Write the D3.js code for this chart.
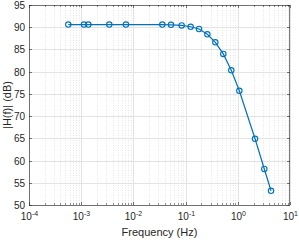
<!DOCTYPE html>
<html><head><meta charset="utf-8">
<script src="https://cdn.jsdelivr.net/npm/d3@7"></script>
<style>body{margin:0;background:#fff}svg{display:block}text{font-family:"Liberation Sans",Arial,sans-serif;fill:#262626}</style>
</head><body><svg id="c" width="299" height="240"></svg>
<script>
const freq = [0.000566, 0.00113, 0.00137, 0.00345, 0.0072, 0.0358, 0.0525, 0.084, 0.125, 0.181, 0.261, 0.371, 0.527, 0.75, 1.07, 2.14, 3.22, 4.33];
const magDb = [90.6, 90.6, 90.6, 90.6, 90.6, 90.6, 90.55, 90.4, 90.1, 89.6, 88.4, 86.6, 84.0, 80.3, 75.7, 64.9, 58.1, 53.2];
const yTicks = [50, 55, 60, 65, 70, 75, 80, 85, 90, 95];
const xDecades = [-4, -3, -2, -1, 0, 1];
const xLabel = "Frequency (Hz)";
const yLabel = "|H(f)| (dB)";

const svg = d3.select("#c");
const L = 29, R = 290, T = 5, B = 205;
const x = d3.scaleLog().domain([1e-4, 10]).range([L, R]);
const y = d3.scaleLinear().domain([50, 95]).range([B, T]);

// minor grid
const minor = [];
for (let d = -4; d < 1; d++) for (let k = 2; k <= 9; k++) minor.push(k * Math.pow(10, d));
const g = svg.append("g");
g.selectAll(".mg").data(minor).join("line")
  .attr("x1", d => Math.round(x(d)) + 0.5).attr("x2", d => Math.round(x(d)) + 0.5)
  .attr("y1", T).attr("y2", B)
  .attr("stroke", "#e6e6e6").attr("stroke-width", 1).attr("stroke-dasharray", "1,1.5");
g.selectAll(".xg").data(xDecades).join("line")
  .attr("x1", d => Math.round(x(Math.pow(10, d))) + 0.5).attr("x2", d => Math.round(x(Math.pow(10, d))) + 0.5)
  .attr("y1", T).attr("y2", B).attr("stroke", "#e3e3e3");
g.selectAll(".yg").data(yTicks).join("line")
  .attr("x1", L).attr("x2", R)
  .attr("y1", d => Math.round(y(d)) + 0.5).attr("y2", d => Math.round(y(d)) + 0.5)
  .attr("stroke", "#e3e3e3");

// box
svg.append("rect").attr("x", L + 0.5).attr("y", T + 0.5).attr("width", R - L - 1).attr("height", B - T)
  .attr("fill", "none").attr("stroke", "#262626").attr("stroke-width", 0.6);

// y ticks
const yAx = svg.append("g");
yTicks.forEach(v => {
  const yy = Math.round(y(v)) + 0.5;
  yAx.append("line").attr("x1", L).attr("x2", L + 3).attr("y1", yy).attr("y2", yy).attr("stroke", "#262626").attr("stroke-width", 0.6);
  yAx.append("line").attr("x1", R - 3).attr("x2", R).attr("y1", yy).attr("y2", yy).attr("stroke", "#262626").attr("stroke-width", 0.6);
  yAx.append("text").attr("x", L - 4).attr("y", yy + 3.5).attr("text-anchor", "end").attr("font-size", 10).text(v);
});
// x ticks
minor.forEach(v => {
  const xx = Math.round(x(v)) + 0.5;
  yAx.append("line").attr("x1", xx).attr("x2", xx).attr("y1", B).attr("y2", B - 2).attr("stroke", "#262626").attr("stroke-width", 0.5);
  yAx.append("line").attr("x1", xx).attr("x2", xx).attr("y1", T).attr("y2", T + 2).attr("stroke", "#262626").attr("stroke-width", 0.5);
});
xDecades.forEach(dd => {
  const xx = Math.round(x(Math.pow(10, dd))) + 0.5;
  yAx.append("line").attr("x1", xx).attr("x2", xx).attr("y1", B).attr("y2", B - 3).attr("stroke", "#262626").attr("stroke-width", 0.6);
  yAx.append("line").attr("x1", xx).attr("x2", xx).attr("y1", T).attr("y2", T + 3).attr("stroke", "#262626").attr("stroke-width", 0.6);
  const t = yAx.append("text").attr("x", xx).attr("y", 220).attr("text-anchor", "middle").attr("font-size", 10);
  t.append("tspan").text("10");
  t.append("tspan").attr("font-size", 7).attr("dy", -4).text(dd);
});

// labels
svg.append("text").attr("x", (L + R) / 2).attr("y", 236).attr("text-anchor", "middle").attr("font-size", 11).text(xLabel);
svg.append("text").attr("transform", `translate(11,${(T + B) / 2}) rotate(-90)`).attr("text-anchor", "middle").attr("font-size", 11).text(yLabel);

// data
const pts = freq.map((f, i) => [f, magDb[i]]);
const line = d3.line().x(d => x(d[0])).y(d => y(d[1]));
svg.append("path").datum(pts).attr("d", line).attr("fill", "none").attr("stroke", "#0072BD").attr("stroke-width", 1.2);
svg.selectAll(".m").data(pts).join("circle")
  .attr("cx", d => x(d[0])).attr("cy", d => y(d[1])).attr("r", 2.7)
  .attr("fill", "none").attr("stroke", "#0072BD").attr("stroke-width", 1.1);
</script></body></html>
